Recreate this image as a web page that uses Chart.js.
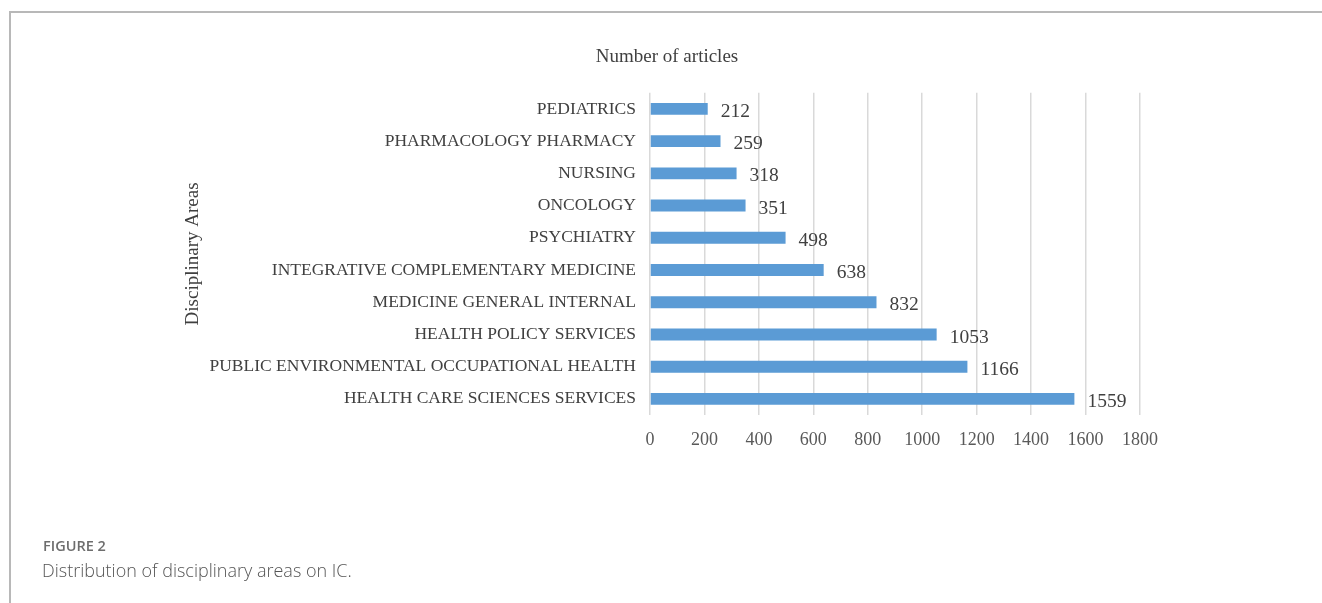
<!DOCTYPE html>
<html>
<head>
<meta charset="utf-8">
<script src="https://cdn.jsdelivr.net/npm/chart.js@4"></script>
<style>
    body { margin: 0; background: #fff; }
    #frame {
        position: absolute; left: 9px; top: 11px; width: 1400px; height: 700px;
        border-left: 2px solid #b8b8b8; border-top: 2px solid #b8b8b8;
    }
    #wrap { position: absolute; left: 0; top: 0; width: 1322px; height: 603px; }
    .cap1 { position: absolute; left: 43px; top: 536px; font: 600 14.5px "Open Sans", sans-serif; color: #6d6d6d; }
    .cap2 { position: absolute; left: 42px; top: 558px; font: 300 18px "Open Sans", sans-serif; color: #555; }
</style>
</head>
<body>
<div id="frame"></div>
<div id="wrap"><canvas id="chart"></canvas></div>
<div class="cap1">FIGURE 2</div>
<div class="cap2">Distribution of disciplinary areas on IC.</div>
<script>
const areas = [
    'PEDIATRICS',
    'PHARMACOLOGY PHARMACY',
    'NURSING',
    'ONCOLOGY',
    'PSYCHIATRY',
    'INTEGRATIVE COMPLEMENTARY MEDICINE',
    'MEDICINE GENERAL INTERNAL',
    'HEALTH POLICY SERVICES',
    'PUBLIC ENVIRONMENTAL OCCUPATIONAL HEALTH',
    'HEALTH CARE SCIENCES SERVICES'
];
const articles = [212, 259, 318, 351, 498, 638, 832, 1053, 1166, 1559];
const xTicks = [0, 200, 400, 600, 800, 1000, 1200, 1400, 1600, 1800];

const serif = '"Liberation Serif", "Times New Roman", serif';

// value labels to the right of each bar
const valueLabels = {
    id: 'valueLabels',
    afterDatasetsDraw(chart) {
        const ctx = chart.ctx;
        const meta = chart.getDatasetMeta(0);
        ctx.save();
        ctx.font = '19.5px ' + serif;
        ctx.fillStyle = '#404040';
        ctx.textAlign = 'left';
        ctx.textBaseline = 'middle';
        meta.data.forEach((bar, i) => {
            ctx.fillText(articles[i], bar.x + 13, bar.y + 3);
        });
        ctx.restore();
    }
};

new Chart(document.getElementById('chart'), {
    type: 'bar',
    data: {
        labels: areas,
        datasets: [{
            data: articles,
            backgroundColor: '#5b9bd5',
            barPercentage: 0.37,
            categoryPercentage: 1
        }]
    },
    plugins: [valueLabels],
    options: {
        indexAxis: 'y',
        responsive: true,
        maintainAspectRatio: false,
        animation: false,
        layout: { padding: { left: 194, right: 182, top: 46, bottom: 148 } },
        plugins: {
            legend: { display: false },
            tooltip: { enabled: false },
            title: {
                display: true,
                text: 'Number of articles',
                color: '#404040',
                font: { family: serif, size: 19, weight: 'normal', lineHeight: 1.2 },
                padding: { top: 0, bottom: 24 }
            }
        },
        scales: {
            x: {
                min: 0,
                max: 1800,
                afterBuildTicks: axis => { axis.ticks = xTicks.map(v => ({ value: v })); },
                afterFit: axis => { axis.height = 40; },
                grid: { color: '#d9d9d9', lineWidth: 1.5, drawTicks: false },
                border: { display: false },
                ticks: {
                    padding: 14,
                    color: '#595959',
                    font: { family: serif, size: 18 },
                    callback: v => String(v)
                }
            },
            y: {
                afterFit: axis => { axis.width = 456; },
                grid: { display: false, drawTicks: false },
                border: { display: false },
                ticks: {
                    padding: 14,
                    color: '#404040',
                    font: { family: serif, size: 17.5 }
                },
                title: {
                    display: true,
                    text: 'Disciplinary Areas',
                    color: '#404040',
                    padding: { top: -12, bottom: 0 },
                    font: { family: serif, size: 19 }
                }
            }
        }
    }
});
</script>
</body>
</html>
